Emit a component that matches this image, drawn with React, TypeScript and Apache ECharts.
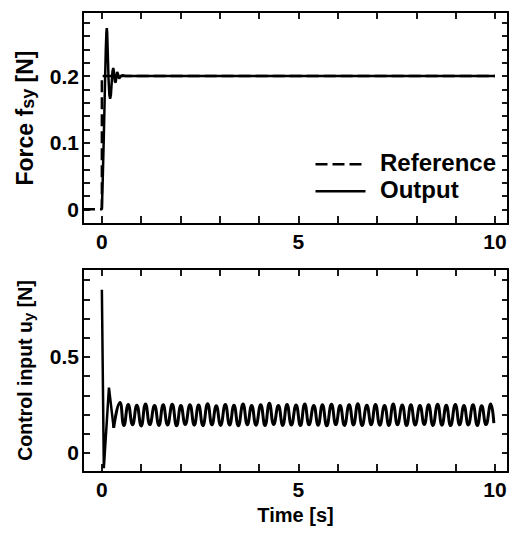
import React, { useEffect, useRef } from "react";
import * as echarts from "echarts";

// ---- data ----
const xTickMin = 0;
const xTickMax = 10;
const xTickStep = 1;
const xLabels = [0, 5, 10];

const forceTickMin = 0;
const forceTickMax = 0.28;
const forceTickStep = 0.02;
const forceLabels = [0, 0.1, 0.2];

const ctrlTickMin = -0.1;
const ctrlTickMax = 0.9;
const ctrlTickStep = 0.1;
const ctrlLabels = [0, 0.5];

const legendNames = ["Reference", "Output"];

const refT = [-0.48, 0, 0, 10];
const refV = [0, 0, 0.2, 0.2];

const outT = [0, 0.02, 0.05, 0.08, 0.1, 0.115, 0.125, 0.135, 0.15, 0.17, 0.19, 0.21, 0.23, 0.25, 0.27, 0.29, 0.31, 0.33, 0.35, 0.37, 0.39, 0.41, 0.44, 0.47, 0.52, 0.6, 10];
const outV = [0, 0.04, 0.11, 0.19, 0.24, 0.265, 0.272, 0.265, 0.235, 0.195, 0.172, 0.166, 0.172, 0.19, 0.207, 0.212, 0.205, 0.192, 0.19, 0.198, 0.206, 0.203, 0.196, 0.199, 0.201, 0.2, 0.2];

const ctrlStartT = [0, 0.05, 0.18, 0.3];
const ctrlStartV = [0.85, -0.08, 0.34, 0.13];

const ctrlPeakT = [0.46, 0.67, 0.89, 1.11, 1.34, 1.56, 1.79, 2.01, 2.24, 2.46, 2.69, 2.91, 3.14, 3.36, 3.59, 3.81, 4.04, 4.26, 4.49, 4.71, 4.94, 5.16, 5.39, 5.61, 5.84, 6.06, 6.29, 6.51, 6.74, 6.96, 7.19, 7.41, 7.64, 7.86, 8.09, 8.31, 8.54, 8.76, 8.99, 9.21, 9.44, 9.66, 9.89];
const ctrlPeakV = [0.262, 0.252, 0.248, 0.255, 0.247, 0.25, 0.253, 0.246, 0.251, 0.249, 0.256, 0.245, 0.252, 0.248, 0.254, 0.247, 0.25, 0.258, 0.246, 0.252, 0.249, 0.255, 0.247, 0.251, 0.253, 0.246, 0.25, 0.256, 0.248, 0.252, 0.247, 0.254, 0.249, 0.251, 0.246, 0.25, 0.253, 0.248, 0.252, 0.247, 0.25, 0.245, 0.255];
const ctrlTroughT = [0.3, 0.56, 0.78, 1.0, 1.22, 1.45, 1.67, 1.9, 2.12, 2.35, 2.57, 2.8, 3.02, 3.25, 3.47, 3.7, 3.92, 4.15, 4.37, 4.6, 4.82, 5.05, 5.27, 5.5, 5.72, 5.95, 6.17, 6.4, 6.62, 6.85, 7.07, 7.3, 7.52, 7.75, 7.97, 8.2, 8.42, 8.65, 8.87, 9.1, 9.32, 9.55, 9.77, 9.97];
const ctrlTroughV = [0.13, 0.142, 0.146, 0.14, 0.147, 0.143, 0.145, 0.141, 0.147, 0.144, 0.142, 0.146, 0.143, 0.145, 0.141, 0.146, 0.144, 0.142, 0.147, 0.143, 0.145, 0.142, 0.146, 0.144, 0.141, 0.147, 0.143, 0.145, 0.142, 0.146, 0.144, 0.143, 0.146, 0.142, 0.145, 0.147, 0.143, 0.144, 0.142, 0.146, 0.145, 0.143, 0.147, 0.155];

const FONT = "Liberation Sans, Arial, sans-serif";

function zip(t: number[], v: number[]) {
  return t.map((x, i) => [x, v[i]]);
}

export default function App() {
  const ref = useRef<HTMLDivElement>(null);
  useEffect(() => {
    document.body.style.margin = "0";
    if (!ref.current) return;
    const chart = echarts.init(ref.current, null, { renderer: "svg" });

    const osc: number[][] = [];
    for (let i = 0; i < ctrlTroughT.length; i++) {
      osc.push([ctrlTroughT[i], ctrlTroughV[i]]);
      if (i < ctrlPeakT.length) osc.push([ctrlPeakT[i], ctrlPeakV[i]]);
    }

    const black = "#000";
    const labelStyle = { color: black, fontFamily: FONT, fontWeight: "bold" as const, fontSize: 21 };
    const frameLine = { show: true, onZero: false, lineStyle: { color: black, width: 2 } };
    const X0 = -0.48, X1 = 10.33;
    const FMIN = -0.022, FMAX = 0.296;
    const CMIN = -0.1, CMAX = 0.958;
    const main = [
      { left: 83, top: 12, width: 425, height: 212, ymin: FMIN, ymax: FMAX, tmin: forceTickMin, tmax: forceTickMax, step: forceTickStep },
      { left: 83, top: 269, width: 425, height: 203, ymin: CMIN, ymax: CMAX, tmin: ctrlTickMin, tmax: ctrlTickMax, step: ctrlTickStep },
    ];

    // Tick grids: same scale as the data grids, but spanning exactly the tick range,
    // so that the axes' own interval ticks fall on round values.
    const tickGrids = main.map((g) => {
      const sx = g.width / (X1 - X0);
      const sy = g.height / (g.ymax - g.ymin);
      const left = g.left + (xTickMin - X0) * sx;
      const right = g.left + (xTickMax - X0) * sx;
      const top = g.top + (g.ymax - g.tmax) * sy;
      const bottom = g.top + (g.ymax - g.tmin) * sy;
      return {
        grid: { left, top, width: right - left, height: bottom - top },
        offL: left - g.left,
        offR: g.left + g.width - right,
        offT: top - g.top,
        offB: g.top + g.height - bottom,
      };
    });

    const xAxisDef = (grid: number, pos: string, labels: boolean, extra: any = {}) => ({
      type: "value", gridIndex: grid, position: pos, min: X0, max: X1,
      axisLine: frameLine, splitLine: { show: false }, axisTick: { show: false },
      axisLabel: labels ? { show: true, customValues: xLabels, margin: 7, ...labelStyle } : { show: false },
      ...extra,
    });
    const yAxisDef = (grid: number, pos: string, min: number, max: number, labels: number[] | null, extra: any = {}) => ({
      type: "value", gridIndex: grid, position: pos, min, max,
      axisLine: frameLine, splitLine: { show: false }, axisTick: { show: false },
      axisLabel: labels ? { show: true, customValues: labels, margin: 4, ...labelStyle } : { show: false },
      ...extra,
    });
    const tickX = (grid: number, pos: string, offset: number, len: number) => ({
      type: "value", gridIndex: grid, position: pos, offset,
      min: xTickMin, max: xTickMax, interval: xTickStep,
      axisLine: { show: false, onZero: false }, splitLine: { show: false },
      axisTick: { show: true, inside: true, length: len, lineStyle: { color: black, width: 1.8 } },
      axisLabel: { show: false },
    });
    const tickY = (grid: number, pos: string, offset: number, len: number, g: any) => ({
      type: "value", gridIndex: grid, position: pos, offset,
      min: g.tmin, max: g.tmax, interval: g.step,
      axisLine: { show: false, onZero: false }, splitLine: { show: false },
      axisTick: { show: true, inside: true, length: len, lineStyle: { color: black, width: 1.8 } },
      axisLabel: { show: false },
    });

    const richForce = {
      a: { fontFamily: FONT, fontWeight: "bold", fontSize: 23, color: black, lineHeight: 26, verticalAlign: "top" },
      b: { fontFamily: FONT, fontWeight: "bold", fontSize: 18, color: black, lineHeight: 26, verticalAlign: "top", padding: [6, 0, 0, 0] },
    };
    const richCtrl = {
      a: { fontFamily: FONT, fontWeight: "bold", fontSize: 19.5, color: black, lineHeight: 24, verticalAlign: "top" },
      b: { fontFamily: FONT, fontWeight: "bold", fontSize: 15, color: black, lineHeight: 24, verticalAlign: "top", padding: [6, 0, 0, 0] },
    };

    const legendY = [163, 190];
    const legendGraphic: any[] = [];
    legendNames.forEach((nm, i) => {
      legendGraphic.push({
        type: "line", left: 313, top: legendY[i] - 1.25,
        shape: { x1: 0, y1: 0, x2: 50, y2: 0 },
        style: { stroke: black, lineWidth: 2.5, lineDash: i === 0 ? [12, 5] : null },
      });
      legendGraphic.push({
        type: "text", left: 380, top: legendY[i] - 13,
        style: { text: nm, fill: black, font: `bold 24px ${FONT}` },
      });
    });

    const tg0 = tickGrids[0], tg1 = tickGrids[1];

    const option: any = {
      animation: false,
      backgroundColor: "#fff",
      grid: [
        { left: main[0].left, top: main[0].top, width: main[0].width, height: main[0].height },
        { left: main[1].left, top: main[1].top, width: main[1].width, height: main[1].height },
        tg0.grid,
        tg1.grid,
      ],
      xAxis: [
        xAxisDef(0, "bottom", true),
        xAxisDef(1, "bottom", true, {
          name: "Time [s]", nameLocation: "middle", nameGap: 33,
          nameTextStyle: { ...labelStyle, fontSize: 20 },
        }),
        xAxisDef(0, "top", false),
        xAxisDef(1, "top", false),
        tickX(2, "bottom", tg0.offB, 8),
        tickX(2, "top", tg0.offT, 7),
        tickX(3, "bottom", tg1.offB, 8),
        tickX(3, "top", tg1.offT, 7),
      ],
      yAxis: [
        yAxisDef(0, "left", FMIN, FMAX, forceLabels, {
          name: "{a|Force f}{b|sy}{a| [N]}", nameLocation: "middle", nameGap: 44, nameRotate: 90,
          nameTextStyle: { rich: richForce },
        }),
        yAxisDef(1, "left", CMIN, CMAX, ctrlLabels, {
          name: "{a|Control input u}{b|y}{a| [N]}", nameLocation: "middle", nameGap: 44, nameRotate: 90,
          nameTextStyle: { rich: richCtrl },
        }),
        yAxisDef(0, "right", FMIN, FMAX, null),
        yAxisDef(1, "right", CMIN, CMAX, null),
        tickY(2, "left", tg0.offL, 7, main[0]),
        tickY(2, "right", tg0.offR, 6, main[0]),
        tickY(3, "left", tg1.offL, 7, main[1]),
        tickY(3, "right", tg1.offR, 6, main[1]),
      ],
      graphic: legendGraphic,
      series: [
        {
          name: legendNames[0], type: "line", xAxisIndex: 0, yAxisIndex: 0,
          data: zip(refT, refV), showSymbol: false, symbol: "none",
          lineStyle: { color: black, width: 2.5, type: [12, 5] },
        },
        {
          name: legendNames[1], type: "line", xAxisIndex: 0, yAxisIndex: 0,
          data: zip(outT, outV), showSymbol: false, symbol: "none",
          lineStyle: { color: black, width: 2.5 },
        },
        {
          name: "ctrl0", type: "line", xAxisIndex: 1, yAxisIndex: 1,
          data: zip(ctrlStartT, ctrlStartV), showSymbol: false, symbol: "none",
          lineStyle: { color: black, width: 2.5 },
        },
        {
          name: "ctrl1", type: "line", xAxisIndex: 1, yAxisIndex: 1,
          data: osc, showSymbol: false, symbol: "none", smooth: 0.5,
          lineStyle: { color: black, width: 3 },
        },
        // empty series so that the tick grids are laid out
        { name: "tg0", type: "line", xAxisIndex: 4, yAxisIndex: 4, data: [], silent: true },
        { name: "tg1", type: "line", xAxisIndex: 6, yAxisIndex: 6, data: [], silent: true },
      ],
    };
    chart.setOption(option);
    return () => chart.dispose();
  }, []);
  return <div ref={ref} style={{ width: 514, height: 538 }} />;
}
